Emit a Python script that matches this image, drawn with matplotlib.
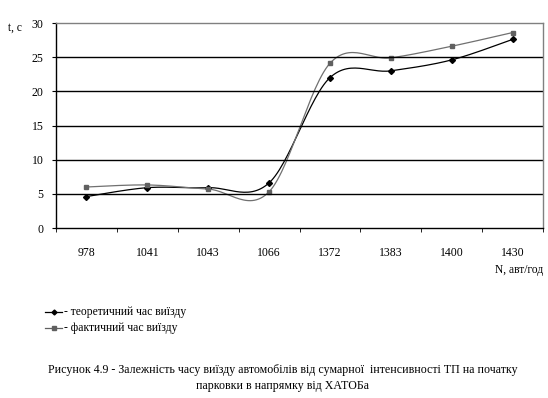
import numpy as np
import matplotlib
matplotlib.use("Agg")
import matplotlib.pyplot as plt
from matplotlib.lines import Line2D

# data
categories = ["978", "1041", "1043", "1066", "1372", "1383", "1400", "1430"]
t_theory = [4.6, 5.9, 5.9, 6.6, 22.0, 23.0, 24.6, 27.6]
t_actual = [6.0, 6.3, 5.7, 5.3, 24.1, 24.9, 26.6, 28.6]


def smooth(x, y, n=30):
    """Excel-like smoothed line: cubic Bezier through the points (Catmull-Rom, 1/6)"""
    x = np.asarray(x, float)
    y = np.asarray(y, float)
    px = np.concatenate([[x[0]], x, [x[-1]]])
    py = np.concatenate([[y[0]], y, [y[-1]]])
    xs, ys = [], []
    s = np.linspace(0, 1, n)
    for i in range(1, len(px) - 2):
        p0 = np.array([px[i], py[i]])
        p3 = np.array([px[i + 1], py[i + 1]])
        c1 = p0 + (np.array([px[i + 1], py[i + 1]]) - np.array([px[i - 1], py[i - 1]])) / 6
        c2 = p3 - (np.array([px[i + 2], py[i + 2]]) - np.array([px[i], py[i]])) / 6
        b = ((1 - s) ** 3)[:, None] * p0 + (3 * (1 - s) ** 2 * s)[:, None] * c1 \
            + (3 * (1 - s) * s ** 2)[:, None] * c2 + (s ** 3)[:, None] * p3
        xs.extend(b[:, 0])
        ys.extend(b[:, 1])
    return np.array(xs), np.array(ys)


fig = plt.figure(figsize=(5.48, 3.98), dpi=100)
ax = fig.add_axes([56 / 548, 1 - 228 / 398, 487 / 548, 205 / 398])

x = np.arange(len(categories))
sx, sy = smooth(x, t_theory)
ax.plot(sx, sy, color="black", lw=0.9)
ax.plot(x, t_theory, ls="none", marker="D", ms=3, color="black")
sx, sy = smooth(x, t_actual)
ax.plot(sx, sy, color="#707070", lw=0.9)
ax.plot(x, t_actual, ls="none", marker="s", ms=3.5, color="#606060")

ax.set_xlim(-0.5, len(categories) - 0.5)
ax.set_ylim(0, 30)
ax.set_yticks(range(0, 31, 5))
ax.set_yticklabels([str(v) for v in range(0, 31, 5)], fontsize=8.5, family="Liberation Serif")
ax.set_xticks(x)
ax.set_xticklabels(categories, fontsize=8.5, family="Liberation Serif")
ax.set_xticks(np.arange(-0.5, len(categories), 1), minor=True)
ax.tick_params(axis="x", which="major", length=0, pad=14)
ax.tick_params(axis="x", which="minor", length=3, direction="out", color="black")
ax.tick_params(axis="y", length=3, direction="out", pad=6)
for v in range(5, 30, 5):
    ax.axhline(v, color="black", lw=1)

for side in ["top", "right"]:
    ax.spines[side].set_color("#808080")
for side in ["left", "bottom"]:
    ax.spines[side].set_color("black")
for sp in ax.spines.values():
    sp.set_linewidth(1)

fig.text(8 / 548, 1 - 28 / 398, "t, с", fontsize=8.3, family="Liberation Serif", va="center")
fig.text(543 / 548, 1 - 270 / 398, "N, авт/год", fontsize=8.3, family="Liberation Serif",
         ha="right", va="center")

# legend drawn by hand under the chart
for yy, col, mk, ms, label in [(312, "black", "D", 2.5, "- теоретичний час виїзду"),
                              (328, "#606060", "s", 3, "- фактичний час виїзду")]:
    fig.add_artist(Line2D([45 / 548, 62 / 548], [1 - yy / 398] * 2, color=col, lw=0.9,
                          transform=fig.transFigure))
    fig.add_artist(Line2D([53.5 / 548], [1 - yy / 398], color=col, marker=mk, ms=ms,
                          transform=fig.transFigure))
    fig.text(64 / 548, 1 - yy / 398, label, fontsize=8.4, family="Liberation Serif", va="center")

fig.text(283 / 548, 1 - 370 / 398,
         "Рисунок 4.9 - Залежність часу виїзду автомобілів від сумарної  інтенсивності ТП на початку",
         fontsize=8.6, family="Liberation Serif", ha="center", va="center")
fig.text(283 / 548, 1 - 386 / 398, "парковки в напрямку від ХАТОБа",
         fontsize=8.6, family="Liberation Serif", ha="center", va="center")

fig.savefig("out.png", dpi=100)
